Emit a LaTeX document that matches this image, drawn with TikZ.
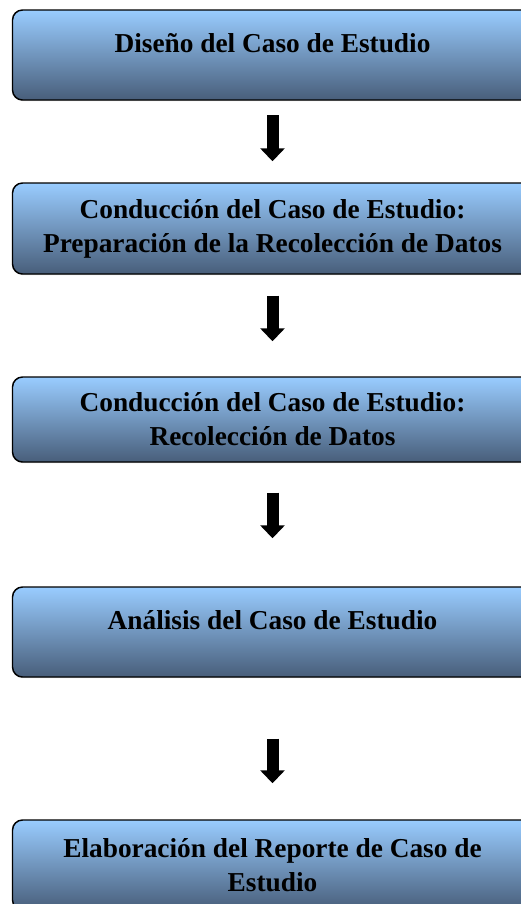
\documentclass[tikz,border=0pt]{standalone}
\usepackage{fontspec}
\setmainfont{Liberation Serif}
\usetikzlibrary{arrows.meta,shadows}

\begin{document}
\begin{tikzpicture}[x=0.75pt,y=-0.75pt,
    etapa/.style={draw=black,line width=1.1pt,rounded corners=7.5pt,inner sep=0pt,
      minimum width=390pt,
      top color={rgb,255:red,153;green,204;blue,255},
      middle color={rgb,255:red,120;green,157;blue,200},
      bottom color={rgb,255:red,72;green,94;blue,122},
      drop shadow={shadow xshift=0.4pt,shadow yshift=-0.9pt,opacity=0.35},
      font=\fontsize{20.5pt}{25.5pt}\selectfont\bfseries},
    una/.style={etapa,text height=31.5pt,text depth=36pt},
    dos/.style={etapa,align=center},
    paso/.style={line width=9pt,-{Triangle[width=18pt,length=9.75pt]}}]
    \useasboundingbox (0,0) rectangle (521,904);

    \node[una] (diseno) at (272.5,55) {Diseño del Caso de Estudio};
    \node[dos,minimum height=68.25pt] (prep) at (272.5,228.5)
      {Conducción del Caso de Estudio:\\Preparación de la Recolección de Datos};
    \node[dos,minimum height=63.75pt] (recol) at (272.5,419.5)
      {Conducción del Caso de Estudio:\\Recolección de Datos};
    \node[una] (anal) at (272.5,632) {Análisis del Caso de Estudio};
    \node[dos,minimum height=67.5pt] (rep) at (272.5,865)
      {Elaboración del Reporte de Caso de\\Estudio};

    \path[paso] (diseno) edge[shorten <=11pt,shorten >=15.75pt] (prep)
    (prep) edge[shorten <=15.75pt,shorten >=26.25pt] (recol)
    (recol) edge[shorten <=22.5pt,shorten >=36pt] (anal)
    (anal) edge[shorten <=45.75pt,shorten >=27pt] (rep);
  \end{tikzpicture}
\end{document}
